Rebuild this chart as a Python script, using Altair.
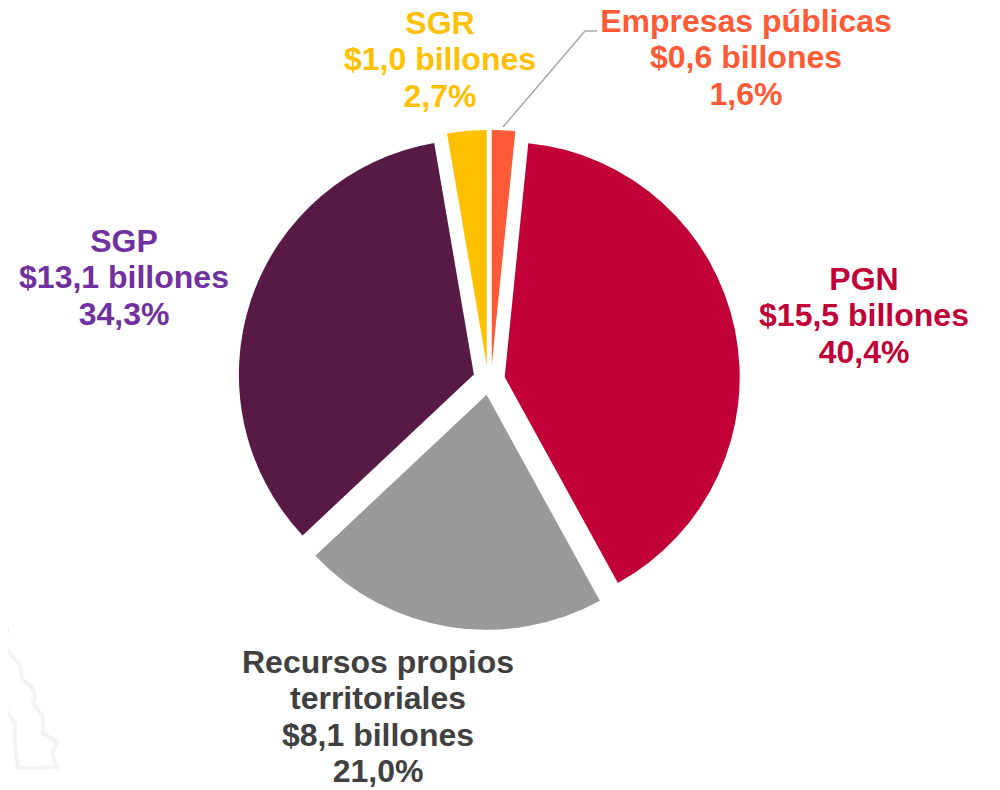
import math
import altair as alt
import pandas as pd

names = ["Empresas públicas", "PGN", "Recursos propios territoriales", "SGP", "SGR"]
percent = [1.6, 40.4, 21.0, 34.3, 2.7]
slice_colors = ["#FF5A36", "#C00037", "#999999", "#561A44", "#FFC000"]
label_colors = ["#FF5A36", "#C00037", "#404040", "#7030A0", "#FFC000"]
explode = [15, 15, 15, 17, 15]
nudge_x = [1, 0, -1, 0, -2]
label_lines = [
    ["Empresas públicas", "$0,6 billones", "1,6%"],
    ["PGN", "$15,5 billones", "40,4%"],
    ["Recursos propios", "territoriales", "$8,1 billones", "21,0%"],
    ["SGP", "$13,1 billones", "34,3%"],
    ["SGR", "$1,0 billones", "2,7%"],
]
label_x = [746, 864, 378, 124, 440]
label_y = [22, 280, 663, 242, 24]
center = (490, 380)
radius = 235
leader_x = [503, 585, 597]
leader_y = [127, 31, 31]
map_x = [2, 8, 3, 20, 22, 32, 35, 33, 43, 43, 57, 52, 57, 33, 18, 15, 15, 7, 2, 0]
map_y = [613, 630, 645, 665, 680, 687, 697, 703, 717, 733, 742, 753, 767, 768, 768, 747, 723, 712, 687, 677]

W, H = 984, 782
xs = alt.Scale(domain=[8, 8 + W], range=[0, W])
ys = alt.Scale(domain=[8, 8 + H], range=[0, H])

rows, labels = [], []
acc = 0.0
for n, p, c, e, nx, lines, lx, ly, lc in zip(names, percent, slice_colors, explode, nudge_x, label_lines, label_x, label_y, label_colors):
    start = acc / sum(percent) * 2 * math.pi
    acc += p
    end = acc / sum(percent) * 2 * math.pi
    mid = (start + end) / 2
    rows.append(dict(name=n, start=start, end=end, color=c,
                     cx=center[0] + nx + e * math.sin(mid), cy=center[1] - e * math.cos(mid)))
    for i, t in enumerate(lines):
        labels.append(dict(text=t, x=lx, y=ly + i * 36.4, color=lc))

arcs = alt.Chart(pd.DataFrame(rows)).mark_arc(outerRadius=radius).encode(
    x=alt.X("cx:Q", scale=xs, axis=None),
    y=alt.Y("cy:Q", scale=ys, axis=None),
    theta=alt.Theta("start:Q", scale=None),
    theta2="end:Q",
    color=alt.Color("color:N", scale=None),
)
text = alt.Chart(pd.DataFrame(labels)).mark_text(
    font="Liberation Sans", fontWeight="bold", fontSize=32, align="center", baseline="middle"
).encode(
    x=alt.X("x:Q", scale=xs, axis=None),
    y=alt.Y("y:Q", scale=ys, axis=None),
    text="text:N",
    color=alt.Color("color:N", scale=None),
)
leader = alt.Chart(pd.DataFrame({"x": leader_x, "y": leader_y, "o": range(3)})).mark_line(
    color="#A6A6A6", strokeWidth=1.5
).encode(
    x=alt.X("x:Q", scale=xs, axis=None), y=alt.Y("y:Q", scale=ys, axis=None), order="o:Q"
)
watermark = alt.Chart(pd.DataFrame({"x": map_x, "y": map_y, "o": range(len(map_x))})).mark_line(
    color="#F3F3F3", strokeWidth=4
).encode(
    x=alt.X("x:Q", scale=xs, axis=None), y=alt.Y("y:Q", scale=ys, axis=None), order="o:Q"
)

chart = alt.layer(watermark, arcs, leader, text).properties(
    width=W, height=H, padding=0, autosize=alt.AutoSizeParams(type="none"), background="white"
).configure_view(stroke=None)
chart.save("out.html", embed_options={"renderer": "svg", "actions": False})
